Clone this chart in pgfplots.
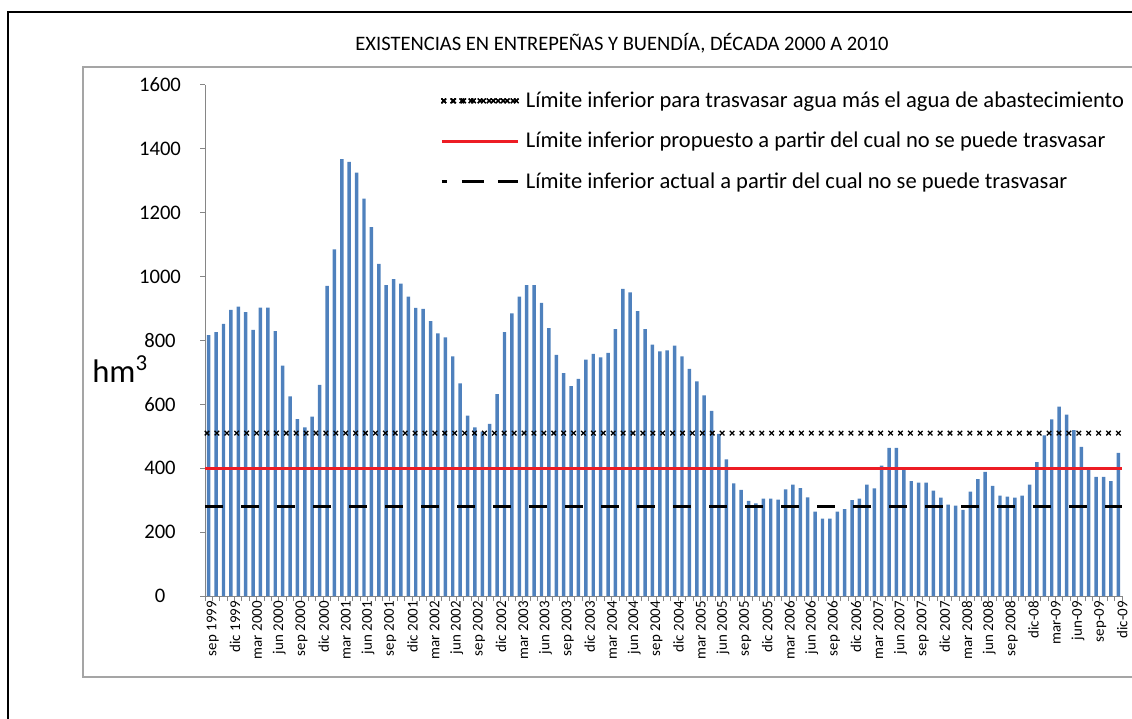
\documentclass[border=0pt]{standalone}
\usepackage{pgfplots}
\pgfplotsset{compat=1.18}
\usepackage{fontspec}
\setmainfont{Carlito}
\usetikzlibrary{decorations.markings}
\definecolor{barblue}{RGB}{79,129,189}
\definecolor{axgray}{RGB}{134,134,134}
\definecolor{framegray}{RGB}{165,165,165}
\definecolor{limred}{RGB}{237,28,36}
\tikzset{
  xline/.style={draw=none, postaction={decorate},
    decoration={markings, mark=between positions 1.5pt and 1 step #1 with {
      \draw[black, line width=0.95pt] (-1.7pt,-1.7pt)--(1.7pt,1.7pt) (-1.7pt,1.7pt)--(1.7pt,-1.7pt);}}},
  xline/.default=7.43pt
}
\begin{document}
\begin{tikzpicture}
\path[use as bounding box] (0,0) rectangle (849pt,538.5pt);
% outer frame
\draw[black, line width=1.5pt] (6.2pt,-2pt) -- (6.2pt,529.3pt) -- (852pt,529.3pt);
% plot-area frame
\draw[framegray, line width=0.9pt] (852pt,30.75pt) -- (62.25pt,30.75pt) -- (62.25pt,488.25pt) -- (852pt,488.25pt);
% title
\node[font=\fontsize{15.4}{18}\selectfont] at (466.5pt,506pt) {EXISTENCIAS EN ENTREPEÑAS Y BUENDÍA, DÉCADA 2000 A 2010};
% y label
\node[anchor=base west, inner sep=0pt, font=\fontsize{24.5}{28}\selectfont] at (69pt,251.25pt) {hm\textsuperscript{3}};
\begin{axis}[
  at={(153.75pt,91.5pt)}, anchor=south west,
  scale only axis, width=687.75pt, height=383.25pt,
  xmin=0.5, xmax=124.5, ymin=0, ymax=1600,
  axis x line*=bottom, axis y line*=left,
  axis line style={axgray, line width=0.75pt},
  tick align=outside,
  major tick length=3.75pt, minor tick length=3.75pt,
  every tick/.style={axgray, line width=0.75pt},
  ytick={0,200,...,1600},
  xtick={1,4,...,124},
  major x tick style={draw=none},
  minor xtick={0.5,1.5,...,124.5},
  xticklabels={sep 1999,dic 1999,mar 2000,jun 2000,sep 2000,dic 2000,mar 2001,jun 2001,sep 2001,dic 2001,mar 2002,jun 2002,sep 2002,dic 2002,mar 2003,jun 2003,sep 2003,dic 2003,mar 2004,jun 2004,sep 2004,dic 2004,mar 2005,jun 2005,sep 2005,dic 2005,mar 2006,jun 2006,sep 2006,dic 2006,mar 2007,jun 2007,sep 2007,dic 2007,mar 2008,jun 2008,sep 2008,dic-08,mar-09,jun-09,sep-09,dic-09},
  xticklabel style={rotate=90, anchor=east, inner sep=0pt, yshift=-3pt, font=\fontsize{11.2}{13}\selectfont},
  yticklabel style={anchor=center, xshift=-30pt, font=\fontsize{15.5}{18}\selectfont},
  /pgf/number format/assume math mode=true,
  scaled y ticks=false,
  y tick label style={/pgf/number format/1000 sep={}},
  legend style={draw=none, fill=none, at={(0.2563,0.992)}, anchor=north west,
    font=\fontsize{16.9}{20}\selectfont, row sep=13pt, inner sep=0pt,
    /tikz/every odd column/.style={column sep=3pt}},
  legend cell align=left,
  clip=false,
]
\addplot[ybar, bar width=2.6pt, bar shift=0pt, fill=barblue, draw=none, forget plot] coordinates {
(1,817) (2,826) (3,852) (4,896) (5,906) (6,889) (7,833) (8,903) (9,903) (10,829)
(11,721) (12,625) (13,554) (14,528) (15,562) (16,661) (17,971) (18,1085) (19,1368) (20,1359)
(21,1326) (22,1244) (23,1155) (24,1040) (25,973) (26,992) (27,978) (28,937) (29,902) (30,899)
(31,861) (32,822) (33,810) (34,750) (35,666) (36,565) (37,528) (38,515) (39,539) (40,632)
(41,826) (42,885) (43,937) (44,973) (45,973) (46,918) (47,839) (48,755) (49,698) (50,657)
(51,680) (52,740) (53,758) (54,747) (55,761) (56,836) (57,962) (58,951) (59,892) (60,836)
(61,787) (62,766) (63,769) (64,784) (65,750) (66,711) (67,672) (68,628) (69,580) (70,508)
(71,428) (72,353) (73,332) (74,298) (75,290) (76,305) (77,305) (78,302) (79,334) (80,349)
(81,338) (82,309) (83,264) (84,242) (85,242) (86,264) (87,272) (88,300) (89,305) (90,349)
(91,337) (92,408) (93,464) (94,464) (95,396) (96,360) (97,355) (98,355) (99,330) (100,308)
(101,286) (102,283) (103,270) (104,327) (105,366) (106,389) (107,345) (108,314) (109,311) (110,308)
(111,314) (112,349) (113,419) (114,503) (115,553) (116,593) (117,568) (118,519) (119,467) (120,396)
(121,373) (122,373) (123,360) (124,448)
};
\addplot[xline, legend image code/.code={\path[xline=6.8pt] (0pt,0pt) -- (57pt,0pt);}] coordinates {(0.5,510) (124.5,510)};
\addlegendentry{Límite inferior para trasvasar agua más el agua de abastecimiento}
\addplot[limred, line width=2.2pt, legend image code/.code={\draw[limred, line width=2.2pt] (0pt,0pt) -- (57pt,0pt);}] coordinates {(0.5,400) (124.5,400)};
\addlegendentry{Límite inferior propuesto a partir del cual no se puede trasvasar}
\addplot[black, line width=2.25pt, dash pattern=on 13.5pt off 13.5pt, legend image code/.code={\draw[black, line width=2.2pt, dash pattern=on 4pt off 11pt on 17pt off 10pt on 15pt] (0pt,0pt) -- (57pt,0pt);}] coordinates {(0.5,280) (124.5,280)};
\addlegendentry{Límite inferior actual a partir del cual no se puede trasvasar}
\end{axis}
\end{tikzpicture}
\end{document}
